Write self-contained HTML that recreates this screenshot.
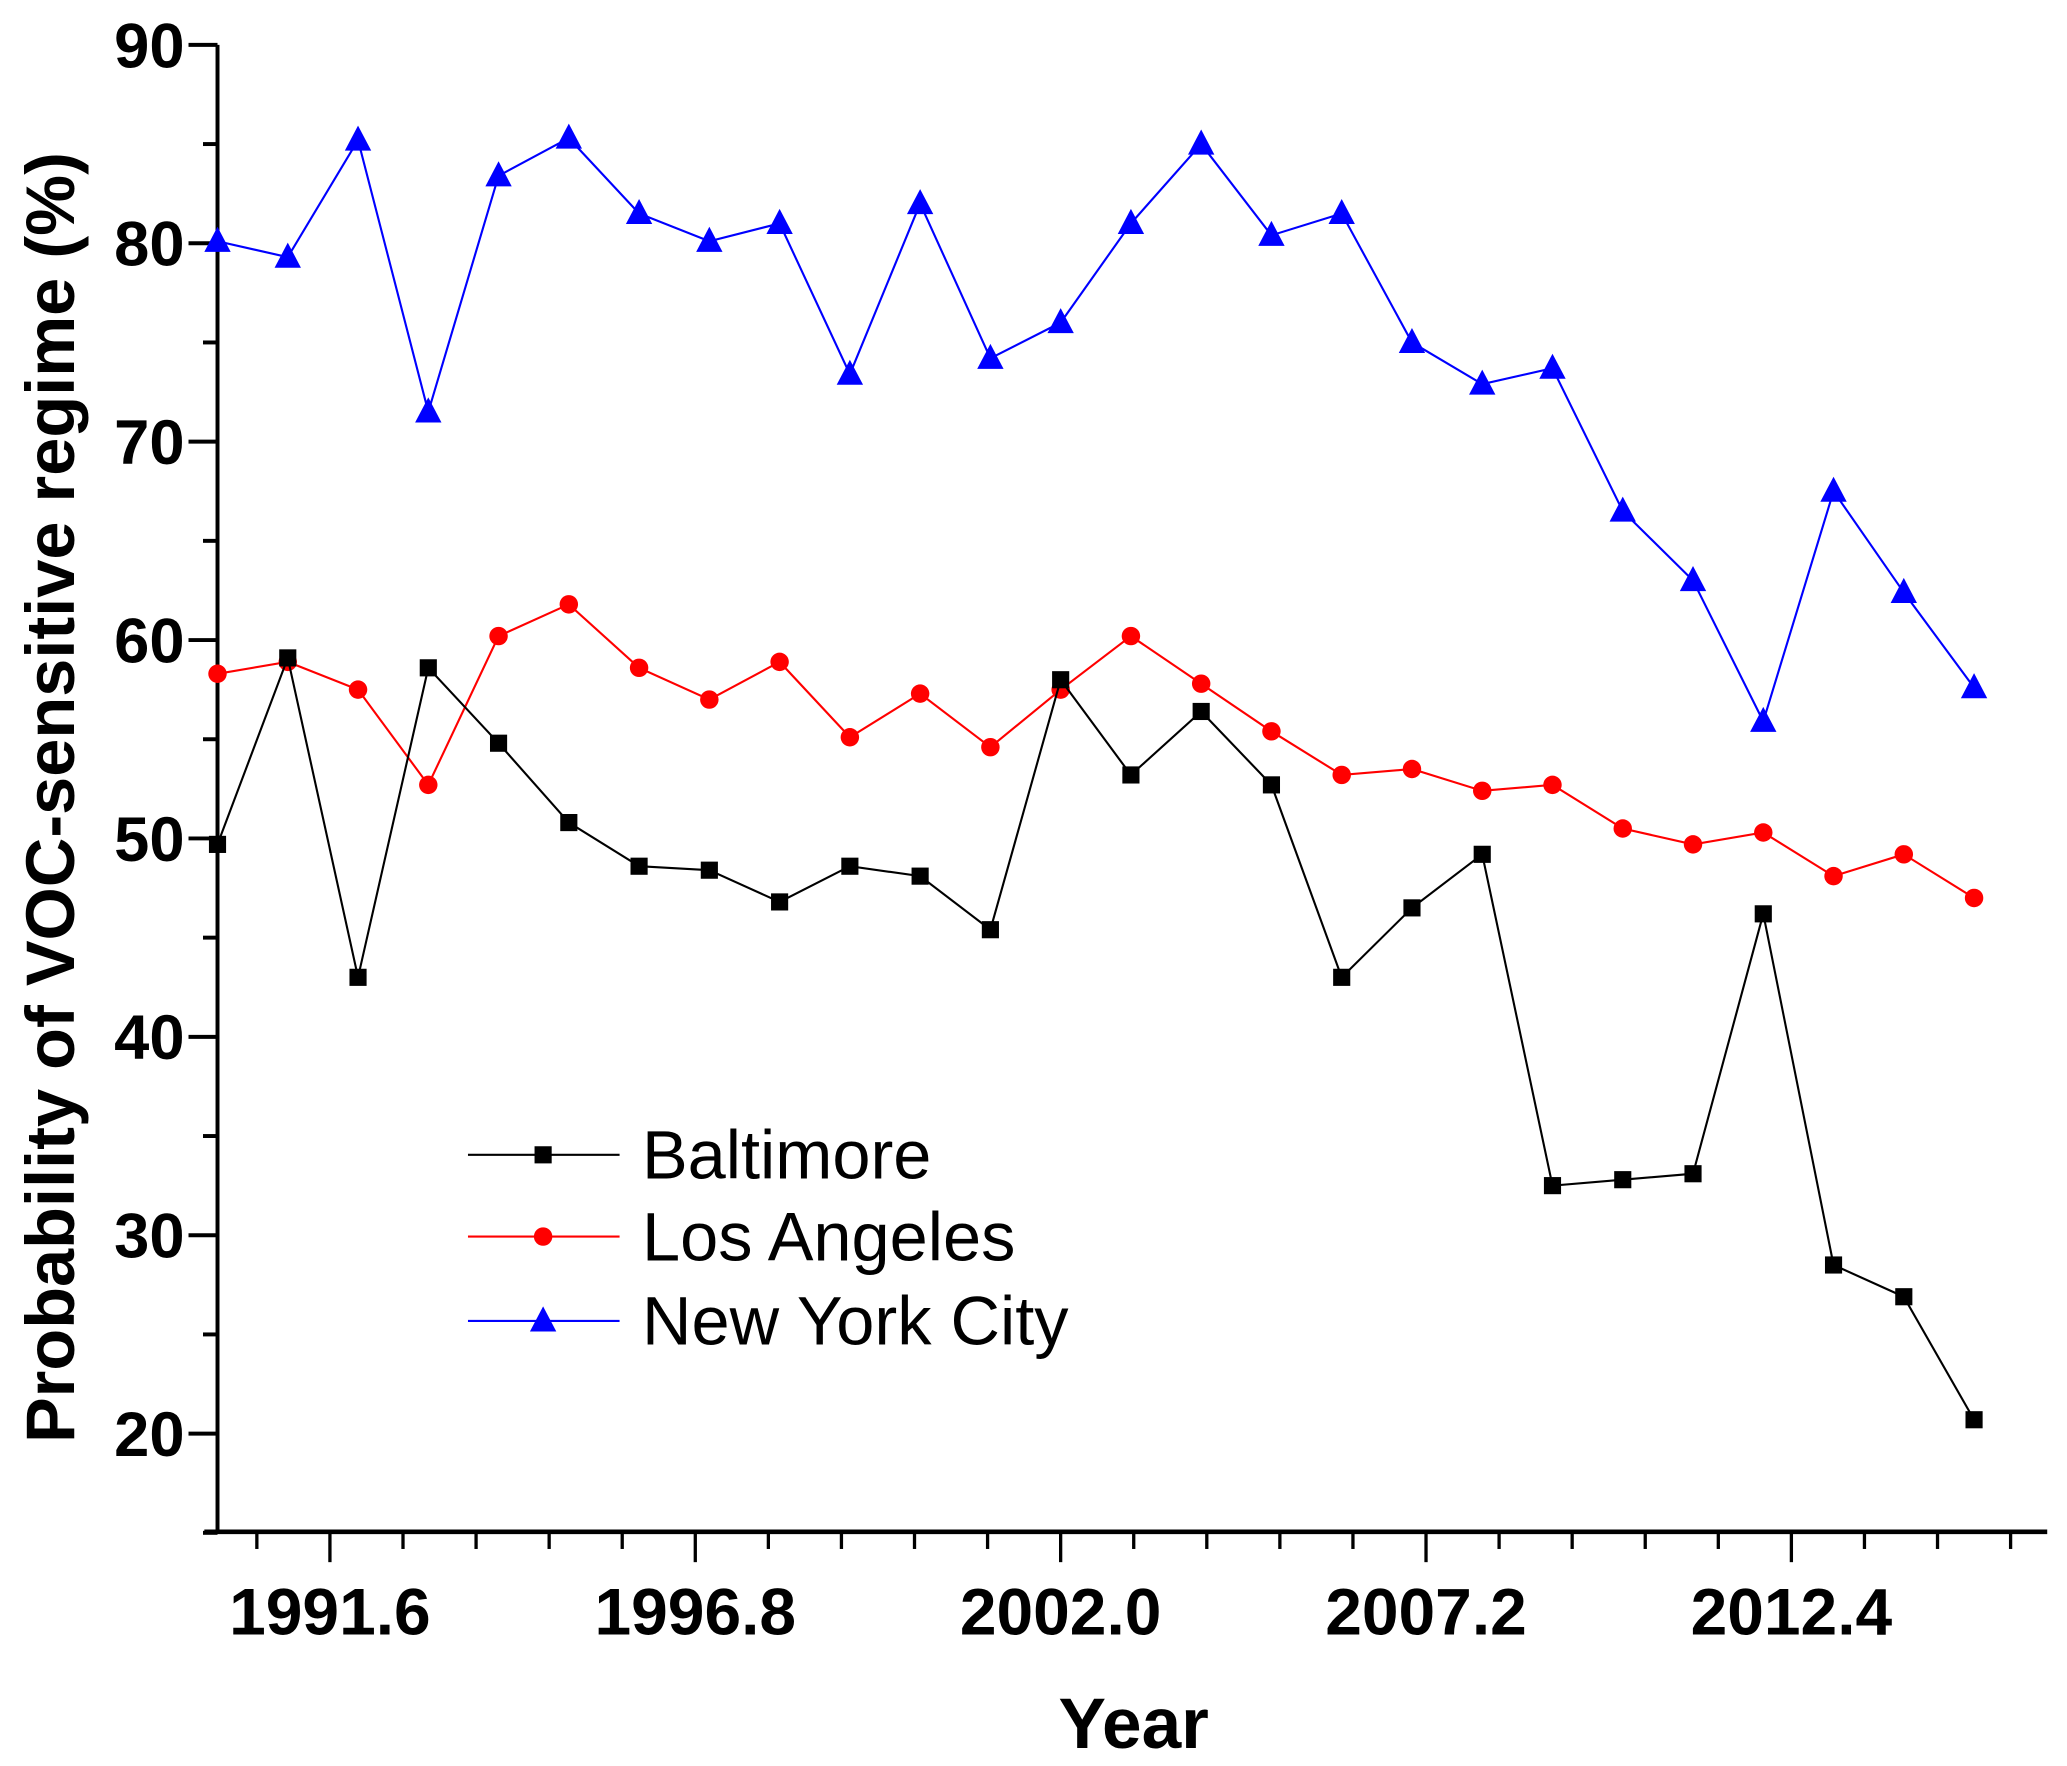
<!DOCTYPE html>
<html><head><meta charset="utf-8"><style>
html,body{margin:0;padding:0;background:#fff;}
svg{display:block;}
text{font-family:"Liberation Sans",Arial,sans-serif;}
</style></head><body>
<svg id="chart" width="2067" height="1766" viewBox="0 0 1568 1339.6" xmlns="http://www.w3.org/2000/svg">
<g id="axes"></g>
<g id="series"></g>
<g id="legend"></g>
<text transform="translate(56,605) rotate(-90)" text-anchor="middle" font-size="52" font-weight="bold">Probability of VOC-sensitive regime (%)</text>
<text x="860" y="1326" text-anchor="middle" font-size="54" font-weight="bold">Year</text>
</svg>
<script>
const years = [1990,1991,1992,1993,1994,1995,1996,1997,1998,1999,2000,2001,2002,2003,2004,2005,2006,2007,2008,2009,2010,2011,2012,2013,2014,2015];
const baltimore = [49.7,59.1,43.0,58.6,54.8,50.8,48.6,48.4,46.8,48.6,48.1,45.4,58.0,53.2,56.4,52.7,43.0,46.5,49.2,32.5,32.8,33.1,46.2,28.5,26.9,20.7];
const losAngeles = [58.3,58.9,57.5,52.7,60.2,61.8,58.6,57.0,58.9,55.1,57.3,54.6,57.5,60.2,57.8,55.4,53.2,53.5,52.4,52.7,50.5,49.7,50.3,48.1,49.2,47.0];
const newYork = [80.1,79.3,85.2,71.5,83.4,85.3,81.5,80.1,81.0,73.4,82.0,74.2,76.0,81.0,85.0,80.4,81.5,75.0,72.9,73.7,66.5,63.0,55.9,67.5,62.4,57.6];
const yTicks = [20,30,40,50,60,70,80,90];
const xTickLabels = ["1991.6","1996.8","2002.0","2007.2","2012.4"];

const NS="http://www.w3.org/2000/svg";
const X0=165, PX_PER_YR=53.3, YR0=1990;
const xs = v => X0 + (v-YR0)*PX_PER_YR;
const ys = v => 34 + (90-v)*15.05;
function mk(tag, attrs, parent){const e=document.createElementNS(NS,tag);for(const k in attrs)e.setAttribute(k,attrs[k]);parent.appendChild(e);return e;}
const axes=document.getElementById('axes');
let l=mk('line',{x1:165,y1:ys(90),x2:165,y2:1162,stroke:'#000','stroke-width':3},axes);


l=mk('line',{x1:155,y1:1162,x2:1553,y2:1162,stroke:'#000','stroke-width':3.5},axes);


for(let v=15; v<=90; v+=5){
  const major = v%10===0;
  const t=mk('line',{x1:165-(major?22:11),y1:ys(v),x2:165,y2:ys(v),stroke:'#000','stroke-width':3},axes);
  
  
}
yTicks.forEach(v=>{
  const t=mk('text',{x:140,y:ys(v)+17,'text-anchor':'end','font-size':48,'font-weight':'bold'},axes);
  t.textContent=v;
  
  
});
for(let i=0;i<=24;i++){
  const v=1990.56+i*1.04;
  const major = (i%5)===1;
  const t=mk('line',{x1:xs(v),y1:1162,x2:xs(v),y2:1162+(major?23:13),stroke:'#000','stroke-width':2.5},axes);
  
  
}
xTickLabels.forEach(s=>{
  const t=mk('text',{x:xs(parseFloat(s)),y:1240,'text-anchor':'middle','font-size':50,'font-weight':'bold'},axes);
  t.textContent=s;
  
  
});
const series=document.getElementById('series');
function marker(type,x,y,color,parent){
  let m;
  if(type==='square') m=mk('rect',{x:x-6.5,y:y-6.5,width:13,height:13,fill:color},parent);
  else if(type==='circle') m=mk('circle',{cx:x,cy:y,r:7,fill:color},parent);
  else m=mk('polygon',{points:`${x},${y-11} ${x-10},${y+8} ${x+10},${y+8}`,fill:color},parent);
  return m;
}
function drawSeries(vals,color,type,name){
  const g=mk('g',{},series);
  
  
  const pts=vals.map((v,i)=>xs(years[i])+','+ys(v)).join(' ');
  const pl=mk('polyline',{points:pts,fill:'none',stroke:color,'stroke-width':1.6},g);
  
  
  vals.forEach((v,i)=>{
    const m=marker(type,xs(years[i]),ys(v),color,g);
    
    
  });
}
drawSeries(newYork,'#0000ff','triangle','new-york-city');
drawSeries(losAngeles,'#ff0000','circle','los-angeles');
drawSeries(baltimore,'#000000','square','baltimore');
const lg=document.getElementById('legend');
[['Baltimore','#000000','square',876],['Los Angeles','#ff0000','circle',938],['New York City','#0000ff','triangle',1002]].forEach(([n,c,t,y])=>{
  const g=mk('g',{},lg);
  
  
  mk('line',{x1:355,y1:y,x2:470,y2:y,stroke:c,'stroke-width':1.6},g);
  marker(t,412,y,c,g);
  const tx=mk('text',{x:487,y:y+18,'font-size':52},g);
  tx.textContent=n;
});
</script>
</body></html>
